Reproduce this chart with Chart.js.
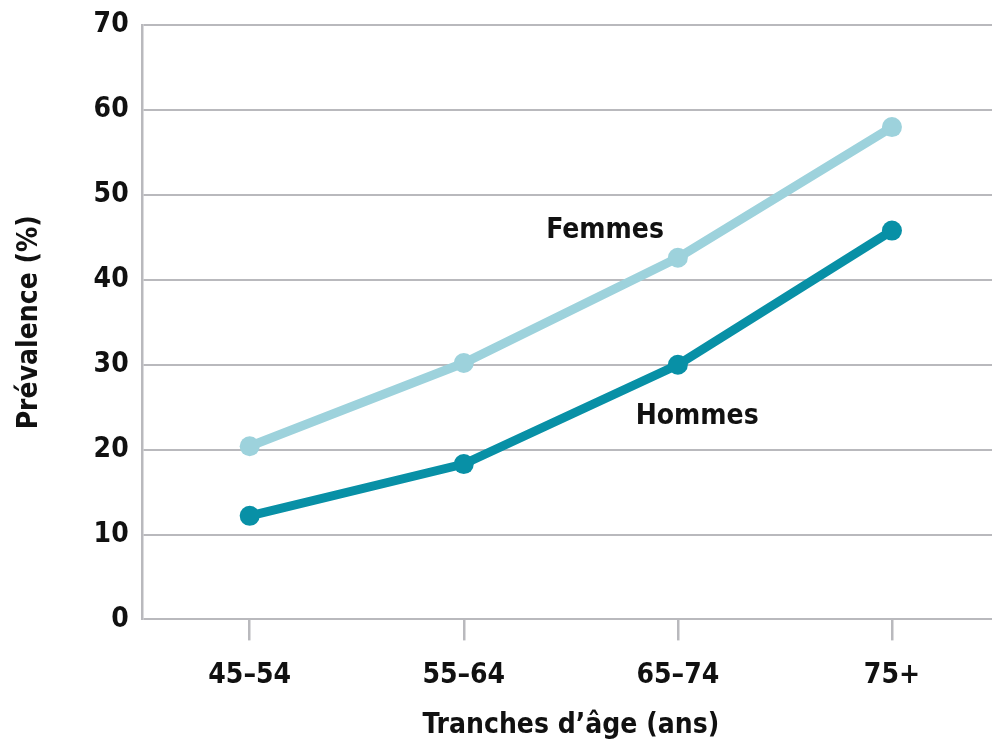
<!DOCTYPE html>
<html>
<head>
<meta charset="utf-8">
<script src="https://cdn.jsdelivr.net/npm/chart.js@4"></script>
<style>
  html, body { margin:0; padding:0; background:#fff; overflow:hidden; }
</style>
</head>
<body>
<canvas id="prevChart" width="1009" height="740"></canvas>
<script>
const ageGroups = ['45–54', '55–64', '65–74', '75+'];
const femmes = [20.4, 30.2, 42.6, 58.0];
const hommes = [12.2, 18.3, 30.0, 45.8];
const yTicks = [0, 10, 20, 30, 40, 50, 60, 70];

const FONT = '"Liberation Sans Narrow", "DejaVu Sans Condensed", "Roboto", sans-serif';
const GRID = '#b9b9bd';
const LIGHT = '#9dd2dc';
const DARK = '#0890a6';

// series names written next to the lines, placed in data units
const seriesLabels = [
  { text: 'Femmes', x: 1.66, y: 45.8 },
  { text: 'Hommes', x: 2.09, y: 23.9 }
];

const lineLabels = {
  id: 'lineLabels',
  afterDatasetsDraw(chart){
    const { ctx, scales:{ x, y } } = chart;
    ctx.save();
    ctx.font = 'bold 28px ' + FONT;
    ctx.fillStyle = '#111';
    ctx.textAlign = 'center';
    ctx.textBaseline = 'middle';
    seriesLabels.forEach(l => ctx.fillText(l.text, x.getPixelForValue(l.x), y.getPixelForValue(l.y)));
    ctx.restore();
  }
};

new Chart(document.getElementById('prevChart'), {
  type: 'line',
  data: {
    labels: ageGroups,
    datasets: [
      { label:'Femmes', data:femmes, borderColor:LIGHT, backgroundColor:LIGHT, borderWidth:9, pointRadius:10, pointBorderWidth:0, pointHoverRadius:10 },
      { label:'Hommes', data:hommes, borderColor:DARK, backgroundColor:DARK, borderWidth:9, pointRadius:10, pointBorderWidth:0, pointHoverRadius:10 }
    ]
  },
  options: {
    responsive: false,
    devicePixelRatio: 1,
    animation: false,
    layout: { padding:{ top:2, right:2, left:13, bottom:0 } },
    plugins: { legend:{ display:false }, tooltip:{ enabled:false } },
    scales: {
      x: {
        offset: true,
        grid: { offset:false, drawOnChartArea:false, drawTicks:true, tickLength:21, color:GRID, lineWidth:2.5 },
        border: { display:false },
        ticks: { color:'#111', font:{ family:FONT, size:28, weight:'bold' }, padding:19 },
        title: { display:true, text:'Tranches d’âge (ans)', color:'#111', font:{ family:FONT, size:28, weight:'bold', lineHeight:1.0 }, padding:{ top:0, bottom:0 } }
      },
      y: {
        min: 0,
        max: 70,
        afterBuildTicks(axis){ axis.ticks = yTicks.map(v => ({ value:v })); },
        grid: { color:GRID, lineWidth:2, drawTicks:false },
        border: { display:true, color:GRID, width:2.5 },
        ticks: { color:'#111', font:{ family:FONT, size:28, weight:'bold', lineHeight:0.8 }, padding:14 },
        title: { display:true, text:'Prévalence (%)', color:'#111', font:{ family:FONT, size:28, weight:'bold' }, padding:{ top:0, bottom:33 } }
      }
    }
  },
  plugins: [lineLabels]
});
</script>
</body>
</html>
